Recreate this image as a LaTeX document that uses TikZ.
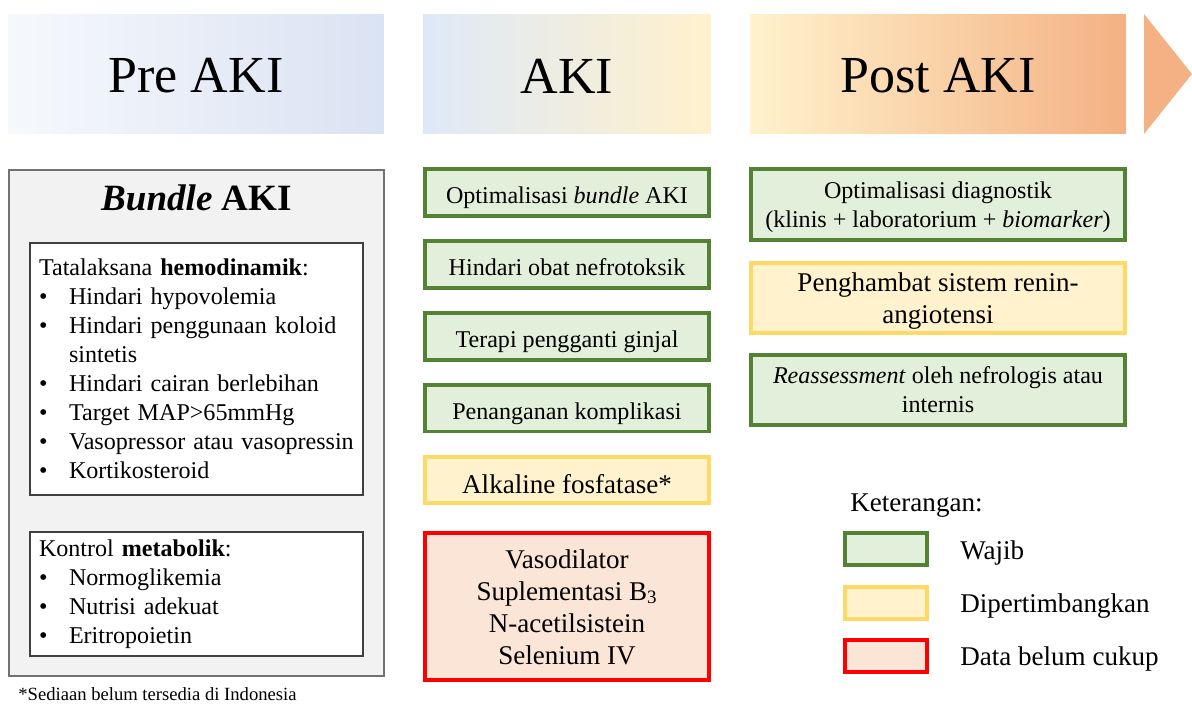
\documentclass[tikz,border=0pt]{standalone}
\usepackage{fontspec}
\setmainfont{Liberation Serif}
\usetikzlibrary{positioning}
\definecolor{wjbdr}{RGB}{84,130,53}
\definecolor{wjfill}{RGB}{226,239,218}
\definecolor{ptbdr}{RGB}{255,217,102}
\definecolor{ptfill}{RGB}{255,242,204}
\definecolor{blbdr}{RGB}{255,0,0}
\definecolor{blfill}{RGB}{251,229,214}
\definecolor{preL}{RGB}{246,248,252}
\definecolor{preR}{RGB}{218,227,243}
\definecolor{akiL}{RGB}{222,233,247}
\definecolor{akiR}{RGB}{255,241,204}
\definecolor{postL}{RGB}{255,242,204}
\definecolor{postR}{RGB}{244,177,131}
\definecolor{bndfill}{RGB}{242,242,242}
\definecolor{bndbdr}{RGB}{118,113,113}
\definecolor{lstbdr}{RGB}{64,64,64}
\newcommand{\ftxt}{\fontsize{13.7}{16.5}\selectfont}
\newcommand{\fbig}{\fontsize{15.4}{18.2}\selectfont}
\newcommand{\itm}[1]{\makebox[0.6cm][l]{\textbullet}#1}
\tikzset{
  hdr/.style={rectangle,minimum height=2.4cm,inner sep=0pt,
    font=\fontsize{29.6}{34}\selectfont,
    execute at begin node={\rule{0pt}{0.74em}}},
  kotak/.style={rectangle,line width=2.2pt,align=center,inner sep=2pt,
    execute at begin node={\rule{0pt}{1.16em}},
    execute at end node={\rule[-0.22em]{0pt}{0.22em}}},
  wajib/.style={kotak,draw=wjbdr,fill=wjfill,font=\ftxt},
  pertimb/.style={kotak,draw=ptbdr,fill=ptfill,font=\fbig},
  belum/.style={kotak,draw=blbdr,fill=blfill,font=\fbig},
  bndbox/.style={rectangle,draw=bndbdr,fill=bndfill,line width=1.1pt},
  lstbox/.style={rectangle,draw=lstbdr,fill=white,line width=0.9pt,
    text width=6.3cm,align=left,inner xsep=0.18cm,font=\ftxt},
  lgd/.style={font=\fbig,inner sep=0pt,yshift=-2pt},
  lgdbox/.style={minimum width=1.64cm,minimum height=0.64cm,inner sep=0pt,font=\tiny},
}
\begin{document}
\begin{tikzpicture}[x=0.02cm,y=-0.02cm,node distance=0.42cm]
  \useasboundingbox (0,0) rectangle (1192,704);

  % header
  \node[hdr,minimum width=7.52cm,left color=preL,right color=preR]  (pre)  at (196,74) {Pre AKI};
  \node[hdr,minimum width=5.76cm,left color=akiL,right color=akiR]  (aki)  at (567,74) {AKI};
  \node[hdr,minimum width=7.52cm,left color=postL,right color=postR] (post) at (938,74) {Post AKI};
  \fill[postR] (1144,14) -- (1192,74) -- (1144,134) -- cycle;

  % pre AKI
  \node[bndbox,minimum width=7.5cm,minimum height=10.12cm] (bnd) at (196.5,423) {};
  \node[font=\fontsize{21.1}{25}\selectfont\bfseries] (bndttl) at (196.5,198) {\textit{Bundle} AKI};
  \node[lstbox,minimum height=5.04cm] (hemo) at (196.5,369)
    {Tatalaksana \textbf{hemodinamik}:\\
     \itm{Hindari hypovolemia}\\
     \itm{Hindari penggunaan koloid}\\
     \hspace*{0.6cm}sintetis\\
     \itm{Hindari cairan berlebihan}\\
     \itm{Target MAP>65mmHg}\\
     \itm{Vasopressor atau vasopressin}\\
     \itm{Kortikosteroid}};
  \node[lstbox,minimum height=2.48cm] (meta) at (196.5,594)
    {Kontrol \textbf{metabolik}:\\
     \itm{Normoglikemia}\\
     \itm{Nutrisi adekuat}\\
     \itm{Eritropoietin}};
  \node[anchor=base west,inner sep=0pt,font=\fontsize{10.6}{12}\selectfont] (fn) at (18,700)
    {*Sediaan belum tersedia di Indonesia};

  % AKI
  \node[wajib,minimum width=5.68cm,minimum height=0.94cm] (opt) at (567,192.5) {Optimalisasi \textit{bundle} AKI};
  \node[wajib,minimum width=5.68cm,minimum height=0.94cm,below=of opt]   (nefro) {Hindari obat nefrotoksik};
  \node[wajib,minimum width=5.68cm,minimum height=0.94cm,below=of nefro] (ginjal) {Terapi pengganti ginjal};
  \node[wajib,minimum width=5.68cm,minimum height=0.94cm,below=of ginjal] (komp) {Penanganan komplikasi};
  \node[pertimb,minimum width=5.68cm,minimum height=0.92cm,below=0.44cm of komp] (alk) {Alkaline fosfatase*};
  \node[belum,minimum width=5.68cm,minimum height=2.94cm,below=0.52cm of alk,text depth=-8pt] (vaso)
    {Vasodilator\\Suplementasi B\textsubscript{3}\\N-acetilsistein\\Selenium IV};

  % post AKI
  \node[wajib,minimum width=7.48cm,minimum height=1.42cm,text depth=-1.6pt] (diag) at (938,204.5)
    {Optimalisasi diagnostik\\(klinis + laboratorium + \textit{biomarker})};
  \node[pertimb,minimum width=7.48cm,minimum height=1.4cm,below=0.38cm of diag,text depth=-3.6pt] (raas)
    {Penghambat sistem renin-\\angiotensi};
  \node[wajib,minimum width=7.48cm,minimum height=1.4cm,below=0.36cm of raas,text depth=-2.2pt] (reas)
    {\textit{Reassessment} oleh nefrologis atau\\internis};

  % keterangan
  \node[lgd,anchor=west] (ket) at (850,502) {Keterangan:};
  \node[wajib,lgdbox] (lgw) at (886,549) {};
  \node[pertimb,lgdbox,below=0.36cm of lgw] (lgp) {};
  \node[belum,lgdbox,below=0.34cm of lgp] (lgb) {};
  \node[lgd,right=0.62cm of lgw] {Wajib};
  \node[lgd,right=0.62cm of lgp] {Dipertimbangkan};
  \node[lgd,right=0.62cm of lgb] {Data belum cukup};
\end{tikzpicture}
\end{document}
